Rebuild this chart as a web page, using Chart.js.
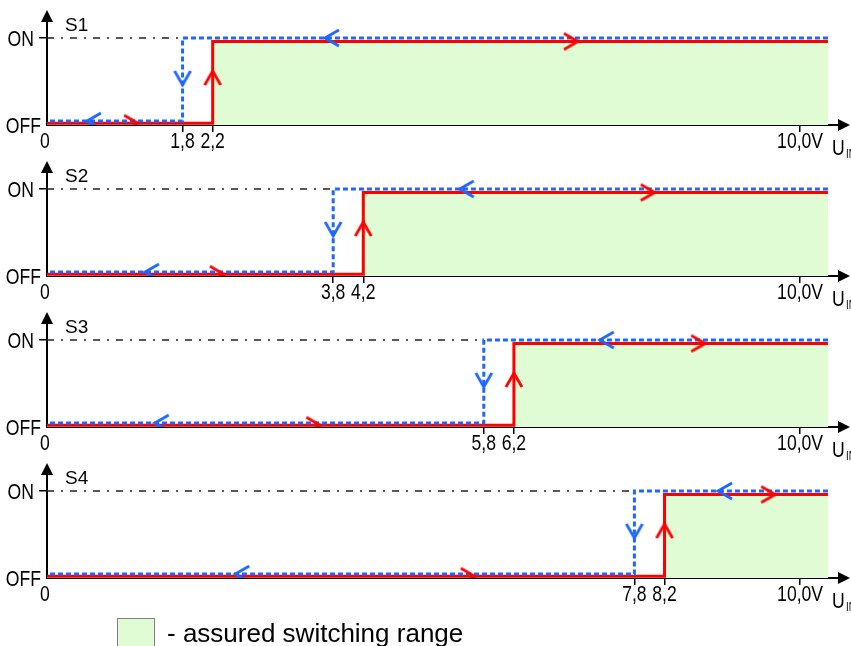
<!DOCTYPE html>
<html>
<head>
<meta charset="utf-8">
<script src="https://cdn.jsdelivr.net/npm/chart.js@4.4.1/dist/chart.umd.min.js"></script>
<style>
  body { margin:0; background:#fff; width:851px; height:646px; overflow:hidden; position:relative; font-family:"Liberation Sans", Arial, sans-serif; }
  .panel { position:absolute; left:0; width:851px; height:166px; }
  #legendBox { position:absolute; left:117px; top:618px; width:36px; height:30px; background:#e0fcd4; border:1px solid #808080; }
  #legendText { position:absolute; left:167px; top:620px; font-size:26px; line-height:26px; color:#000; white-space:nowrap; }
</style>
</head>
<body>
<div class="panel" style="top:0px"><canvas id="c0"></canvas></div>
<div class="panel" style="top:151px"><canvas id="c1"></canvas></div>
<div class="panel" style="top:302px"><canvas id="c2"></canvas></div>
<div class="panel" style="top:453px"><canvas id="c3"></canvas></div>
<div id="legendBox"></div>
<div id="legendText">- assured switching range</div>
<script>
// Switch thresholds (V)
const switches = ["S1", "S2", "S3", "S4"];
const onPoints = [2.2, 4.2, 6.2, 8.2];    // rising input -> switches ON
const offPoints = [1.8, 3.8, 5.8, 7.8];   // falling input -> switches OFF
const fullScale = 10.0;
const traceEnd = 10.37;

// output levels as drawn (OFF = 0, ON = 1)
const redLow = 0.02, redHigh = 0.96;
const blueLow = 0.045, blueHigh = 1.0;

// direction arrows along the traces (V)
const redOffArrows = [1.21, 2.35, 3.63, 5.68];
const redOnArrows = [7.05, 8.07, 8.74, 9.67];
const blueOffArrows = [0.53, 1.30, 1.43, 2.50];
const blueOnArrows = [3.69, 5.48, 7.34, 8.91];
const redUpTip = 0.62, blueDownTip = 0.46;

const yTickLabels = ["OFF", "ON"];

const RED = "#ff0000";
const BLUE = "#1f66ff";
const GREEN = "#e0fcd4";
const SANS = "'Liberation Sans', Arial, sans-serif";

// chevron drawn with its tip at the centre of the image, pointing right
function chevron(color) {
  const s = 34, c = document.createElement("canvas");
  c.width = s; c.height = s;
  const g = c.getContext("2d");
  g.strokeStyle = color;
  g.lineWidth = 2.8;
  g.beginPath();
  g.moveTo(s / 2 - 14, s / 2 - 8);
  g.lineTo(s / 2, s / 2);
  g.lineTo(s / 2 - 14, s / 2 + 8);
  g.stroke();
  return c;
}
const redArrow = chevron(RED);
const blueArrow = chevron(BLUE);

function fmtV(v) {
  if (v === 0) return "0";
  if (v === fullScale) return "10,0V";
  return v.toFixed(1).replace(".", ",");
}

// narrow text like the original drawing
function narrowText(ctx, text, x, y, size, align) {
  ctx.save();
  ctx.translate(x, y);
  ctx.scale(0.8, 1);
  ctx.font = size + "px " + SANS;
  ctx.textAlign = align;
  ctx.textBaseline = "alphabetic";
  ctx.fillText(text, 0, 0);
  ctx.restore();
}

const decor = {
  id: "decor",
  afterDraw(chart, args, opts) {
    const { ctx, chartArea: a } = chart;
    const xs = chart.scales.x, ys = chart.scales.y;
    ctx.save();
    ctx.fillStyle = "#000";
    // y axis arrow
    ctx.beginPath();
    ctx.moveTo(a.left, a.top - 10);
    ctx.lineTo(a.left - 6, a.top + 2);
    ctx.lineTo(a.left + 6, a.top + 2);
    ctx.closePath();
    ctx.fill();
    // x axis arrow
    ctx.beginPath();
    ctx.moveTo(a.right + 10, a.bottom);
    ctx.lineTo(a.right - 2, a.bottom - 6);
    ctx.lineTo(a.right - 2, a.bottom + 6);
    ctx.closePath();
    ctx.fill();
    // switch name
    ctx.font = "19px " + SANS;
    ctx.textBaseline = "middle";
    ctx.fillText(opts.name, a.left + 18, a.top + 6);
    // x tick labels
    xs.ticks.forEach(t => {
      const px = xs.getPixelForValue(t.value);
      narrowText(ctx, fmtV(t.value), t.value === 0 ? px - 2 : px, a.bottom + 23, 22, "center");
    });
    // y tick labels
    ys.ticks.forEach(t => {
      const py = ys.getPixelForValue(t.value);
      narrowText(ctx, yTickLabels[t.value], t.value === 0 ? a.left - 6 : a.left - 13, py + 8, 22, "right");
    });
    // U_IN
    narrowText(ctx, "U", 832, a.bottom + 30, 22, "left");
    narrowText(ctx, "IN", 846, a.bottom + 33, 12, "left");
    ctx.restore();
  }
};

switches.forEach((name, i) => {
  new Chart(document.getElementById("c" + i), {
    type: "line",
    data: {
      datasets: [
        {
          data: [
            { x: redOffArrows[i], y: redLow },
            { x: redOnArrows[i], y: redHigh },
            { x: onPoints[i], y: redUpTip }
          ],
          showLine: false,
          pointStyle: redArrow,
          pointRotation: [0, 0, -90],
          pointRadius: 3
        },
        {
          data: [
            { x: blueOffArrows[i], y: blueLow },
            { x: blueOnArrows[i], y: blueHigh },
            { x: offPoints[i], y: blueDownTip }
          ],
          showLine: false,
          pointStyle: blueArrow,
          pointRotation: [180, 180, 90],
          pointRadius: 3
        },
        {
          data: [
            { x: traceEnd, y: blueHigh },
            { x: offPoints[i], y: blueHigh },
            { x: offPoints[i], y: blueLow },
            { x: 0, y: blueLow }
          ],
          borderColor: BLUE,
          borderWidth: 3,
          borderDash: [5, 3],
          pointRadius: 0,
          fill: false
        },
        {
          data: [
            { x: 0, y: redLow },
            { x: onPoints[i], y: redLow },
            { x: onPoints[i], y: redHigh },
            { x: traceEnd, y: redHigh }
          ],
          borderColor: RED,
          borderWidth: 3,
          pointRadius: 0,
          fill: "origin",
          backgroundColor: GREEN
        },
        {
          data: [
            { x: 0, y: 1 },
            { x: offPoints[i], y: 1 }
          ],
          borderColor: "#222",
          borderWidth: 1.3,
          borderDash: [7, 7, 2, 7],
          pointRadius: 0,
          fill: false
        }
      ]
    },
    options: {
      responsive: true,
      maintainAspectRatio: false,
      animation: false,
      layout: { padding: { top: 20, right: 11, left: 0, bottom: 0 } },
      plugins: {
        legend: { display: false },
        tooltip: { enabled: false },
        decor: { name: name }
      },
      elements: { line: { tension: 0 } },
      scales: {
        x: {
          type: "linear",
          min: 0,
          max: 10.53,
          afterBuildTicks: s => {
            s.ticks = [0, offPoints[i], onPoints[i], fullScale].map(v => ({ value: v }));
          },
          afterFit: s => { s.height = 41; },
          ticks: { display: false },
          grid: {
            drawOnChartArea: false,
            tickLength: 7,
            lineWidth: 1.5,
            color: c => (c.tick && c.tick.value === 0 ? "rgba(0,0,0,0)" : "#000")
          },
          border: { display: true, color: "#000", width: 2 }
        },
        y: {
          min: 0,
          max: 1.207,
          afterBuildTicks: s => {
            s.ticks = [0, 1].map(v => ({ value: v }));
          },
          afterFit: s => { s.width = 47; },
          ticks: { display: false },
          grid: {
            drawOnChartArea: false,
            tickLength: 8,
            lineWidth: 1.5,
            color: c => (c.tick && c.tick.value === 0 ? "rgba(0,0,0,0)" : "#000")
          },
          border: { display: true, color: "#000", width: 2 }
        }
      }
    },
    plugins: [decor]
  });
});
</script>
</body>
</html>
